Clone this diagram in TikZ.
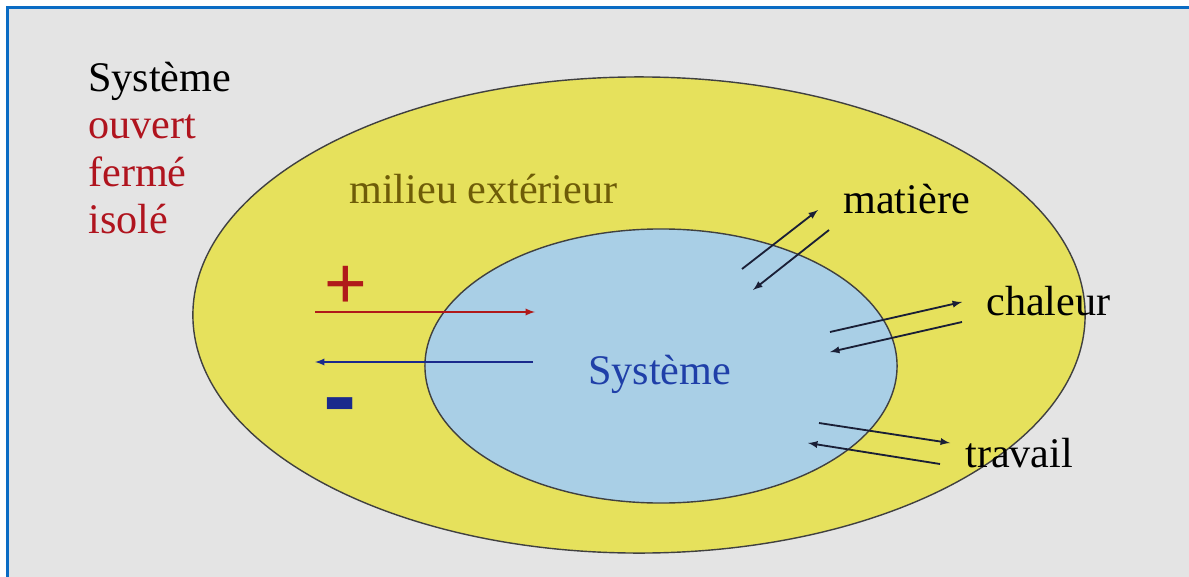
\documentclass[tikz,border=0pt]{standalone}
\usepackage{fontspec}
\setmainfont{Liberation Serif}
\newfontfamily\signfont{Liberation Sans}
\usetikzlibrary{shapes.geometric, arrows}
\definecolor{framebg}{HTML}{E4E4E4}
\definecolor{frameblue}{HTML}{0A6CC4}
\definecolor{milieuyellow}{HTML}{E6E15C}
\definecolor{systemeblue}{HTML}{A9CFE6}
\definecolor{typered}{HTML}{B0141E}
\definecolor{milieutext}{HTML}{6E5C08}
\definecolor{systemetext}{HTML}{1F3FA8}
\definecolor{plusred}{HTML}{B01A1A}
\definecolor{minusblue}{HTML}{1A2A8C}
\definecolor{arrowdark}{HTML}{1A1F36}

\begin{document}
\begin{tikzpicture}[x=0.025cm, y=-0.025cm]
\tikzstyle{label}=[anchor=base west, inner sep=0pt, font=\fontsize{30}{34}\selectfont]
\tikzstyle{zone}=[ellipse, draw=black!75, line width=1pt, inner sep=0pt]
\tikzstyle{sign}=[inner sep=0pt]
\tikzstyle{arrow}=[draw, -latex, line width=1.3pt, color=arrowdark]

\useasboundingbox (0,0) rectangle (1189,577);
\fill[white] (0,0) rectangle (1189,577);
\fill[framebg] (8,8) rectangle (1189,577);
\draw[frameblue, line width=2pt] (7.5,577) -- (7.5,7.5) -- (1189,7.5);

% environnement et systeme
\node (milieu) [zone, fill=milieuyellow, minimum width=22.3cm, minimum height=11.9cm] at (639,315) {};
\node (systeme) [zone, fill=systemeblue, minimum width=11.8cm, minimum height=6.85cm] at (661,366) {};

% types de systeme
\node (systype) [label] at (88,92) {Système};
\node (ouvert) [label, text=typered] at (88,139) {ouvert};
\node (ferme) [label, text=typered] at (88,186) {fermé};
\node (isole) [label, text=typered] at (88,233) {isolé};

\node (milieuname) [label, text=milieutext] at (349,203) {milieu extérieur};
\node (systemename) [label, text=systemetext] at (588,384) {Système};
\node (matiere) [label] at (843,213) {matière};
\node (chaleur) [label] at (986,315) {chaleur};
\node (travail) [label] at (965,467) {travail};

\node (plus) [sign, text=plusred, font=\signfont\fontsize{52}{52}\selectfont] at (346,287) {+};
\node (minus) [sign, text=minusblue, font=\signfont\bfseries\fontsize{71}{71}\selectfont] at (340,414) {-};

% echanges
\coordinate (plusA) at (315,312);
\coordinate (plusB) at (535,312);
\coordinate (minusA) at (533,362);
\coordinate (minusB) at (315,362);
\coordinate (matOutA) at (742,269);
\coordinate (matOutB) at (818,210);
\coordinate (matInA) at (829,230);
\coordinate (matInB) at (753,290);
\coordinate (chalOutA) at (830,332);
\coordinate (chalOutB) at (962,302);
\coordinate (chalInA) at (962,322);
\coordinate (chalInB) at (830,352);
\coordinate (travOutA) at (819,423);
\coordinate (travOutB) at (950,443);
\coordinate (travInA) at (940,464);
\coordinate (travInB) at (808,443);

\draw [arrow, color=plusred] (plusA) -- (plusB);
\draw [arrow, color=minusblue] (minusA) -- (minusB);
\draw [arrow] (matOutA) -- (matOutB);
\draw [arrow] (matInA) -- (matInB);
\draw [arrow] (chalOutA) -- (chalOutB);
\draw [arrow] (chalInA) -- (chalInB);
\draw [arrow] (travOutA) -- (travOutB);
\draw [arrow] (travInA) -- (travInB);

\end{tikzpicture}
\end{document}
